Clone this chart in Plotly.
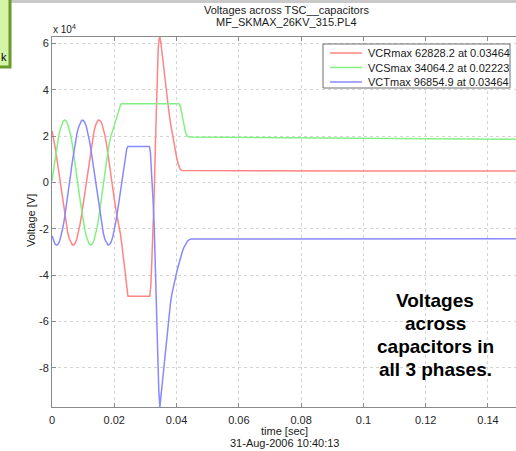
import numpy as np
import plotly.graph_objects as go

# ---------------- layout constants ----------------
W, H = 516, 451
ML, MR, MT, MB = 52, 0, 37, 44
FONT = "Liberation Sans, Arial, sans-serif"

# ---------------- texts ----------------
title_lines = ["Voltages across TSC__capacitors", "MF_SKMAX_26KV_315.PL4"]
x_title = "time [sec]"
x_subtitle = "31-Aug-2006 10:40:13"
y_title = "Voltage [V]"
y_exponent = "x 10<sup>4</sup>"
note_lines = ["Voltages", "across", "capacitors in", "all 3 phases."]
corner_text = "k"

x_ticks = [0, 0.02, 0.04, 0.06, 0.08, 0.10, 0.12, 0.14]
x_tick_labels = ["0", "0.02", "0.04", "0.06", "0.08", "0.1", "0.12", "0.14"]
y_ticks = [-8, -6, -4, -2, 0, 2, 4, 6]
y_tick_labels = ["-8", "-6", "-4", "-2", "0", "2", "4", "6"]
x_range = [0, 0.149]
y_range = [-9.68549, 6.28282]

series_names = ["VCRmax 62828.2 at 0.03464",
                "VCSmax 34064.2 at 0.02223",
                "VCTmax 96854.9 at 0.03464"]
series_colors = ["#ff8484", "#84f084", "#8888ff"]

# ---------------- data (time in ms, voltage in units of 1e4 V) ----------------
t_vcr_ms = [0, 0.5, 1, 1.5, 2, 2.5, 3, 3.5, 4, 4.5, 5, 5.5, 6, 6.5, 7, 7.5, 8, 8.5, 9, 9.5,
            10, 10.5, 11, 11.5, 12, 12.5, 13, 13.5, 14, 14.5, 15, 15.5, 16, 16.5, 17, 17.5,
            18, 18.5, 19, 19.5, 20, 20.5, 21, 21.5, 22, 22.5, 23, 23.5, 24, 24.4,
            31.4, 31.7, 32.0, 32.4, 32.8, 33.2, 33.5, 33.8, 34.1, 34.4, 34.64, 34.9, 35.3,
            35.8, 36.3, 37.0, 37.5, 38.0, 38.5, 39.0, 39.5, 40.0, 40.5, 41.0, 41.6,
            60, 100, 150]
vcr = [2.24, 1.92, 1.53, 1.09, 0.61, 0.10, -0.41, -0.90, -1.36, -1.77,
       -2.12, -2.40, -2.59, -2.69, -2.69, -2.60, -2.41, -2.14, -1.80, -1.39,
       -0.93, -0.44, 0.07, 0.57, 1.06, 1.50, 1.90, 2.22, 2.47, 2.63,
       2.70, 2.67, 2.55, 2.33, 2.04, 1.67, 1.24, 0.77, 0.27, -0.24,
       -0.70, -1.15, -1.50, -1.85, -2.25, -2.75, -3.35, -3.95, -4.55, -4.91,
       -4.91, -4.50, -3.60, -2.20, -0.60, 1.60, 3.50, 4.90, 5.80, 6.20, 6.28282, 6.10, 5.60,
       5.00, 4.40, 3.70, 3.10, 2.60, 2.20, 1.80, 1.40, 1.10, 0.82, 0.62, 0.52,
       0.51, 0.50, 0.50]

t_vcs_ms = [0, 0.5, 1, 1.5, 2, 2.5, 3, 3.5, 4, 4.5, 5, 5.5, 6, 6.5, 7, 7.5, 8, 8.5, 9, 9.5,
            10, 10.5, 11, 11.5, 12, 12.5, 13, 13.5, 14, 14.5, 15, 15.5, 16, 16.5, 17, 17.5,
            18, 18.5, 19, 19.5, 20, 21, 22, 22.23,
            40.8, 41.2, 41.6, 42.0, 42.4, 42.8, 43.2, 43.7, 44.3,
            60, 80, 100, 120, 150]
vcs = [0.07, 0.57, 1.06, 1.50, 1.90, 2.22, 2.47, 2.63, 2.70, 2.67,
       2.55, 2.33, 2.04, 1.67, 1.24, 0.77, 0.27, -0.24, -0.74, -1.21,
       -1.64, -2.01, -2.32, -2.53, -2.66, -2.70, -2.64, -2.48, -2.24, -1.92,
       -1.53, -1.09, -0.61, -0.10, 0.41, 0.90, 1.36, 1.77, 2.05, 2.25,
       2.42, 2.90, 3.36, 3.40642,
       3.40, 3.30, 3.05, 2.75, 2.45, 2.20, 2.05, 1.99, 1.97,
       1.95, 1.93, 1.91, 1.89, 1.87]

t_vct_ms = [0, 0.5, 1, 1.5, 2, 2.5, 3, 3.5, 4, 4.5, 5, 5.5, 6, 6.5, 7, 7.5, 8, 8.5, 9, 9.5,
            10, 10.5, 11, 11.5, 12, 12.5, 13, 13.5, 14, 14.5, 15, 15.5, 16, 16.5, 17, 17.5,
            18, 18.5, 19, 19.5, 20, 20.5, 21, 21.5, 22, 22.5, 23, 23.5, 24, 24.4,
            31.3, 31.6, 31.9, 32.2, 32.5, 32.8, 33.1, 33.5, 33.9, 34.3, 34.64, 35.0, 35.5,
            36.0, 36.5, 37.0, 37.5, 38.0, 38.5, 39.0, 39.5, 40.0, 40.5, 41.0, 41.5, 42.0,
            42.5, 43.0, 43.5, 44.0, 44.6, 60, 100, 150]
vct = [-2.30, -2.52, -2.66, -2.70, -2.65, -2.50, -2.26, -1.94, -1.56, -1.12,
       -0.64, -0.14, 0.37, 0.87, 1.33, 1.75, 2.10, 2.38, 2.58, 2.68,
       2.69, 2.61, 2.43, 2.16, 1.82, 1.42, 0.96, 0.47, -0.03, -0.54,
       -1.03, -1.48, -1.87, -2.20, -2.46, -2.62, -2.70, -2.67, -2.56, -2.35,
       -2.06, -1.69, -1.27, -0.80, -0.30, 0.20, 0.70, 1.15, 1.45, 1.56,
       1.56, 1.30, 0.70, -0.10, -0.90, -1.80, -3.20, -5.60, -7.70, -9.00, -9.68549, -9.20, -8.46,
       -7.75, -7.05, -6.35, -5.75, -5.25, -4.80, -4.45, -4.15, -3.90, -3.62, -3.35, -3.12, -2.92,
       -2.76, -2.63, -2.53, -2.47, -2.44, -2.44, -2.43, -2.42]

series_t = [t_vcr_ms, t_vcs_ms, t_vct_ms]
series_v = [vcr, vcs, vct]

# ---------------- helpers: pixel -> paper ----------------
PW = W - ML - MR
PH = H - MT - MB


def px(xp):
    return (xp - ML) / PW


def py(yp):
    return (H - MB - yp) / PH


fig = go.Figure()
for name, t, v, c in zip(series_names, series_t, series_v, series_colors):
    fig.add_trace(go.Scatter(x=np.array(t) / 1000.0, y=v, mode="lines", name=name,
                             line=dict(color=c, width=1.5), showlegend=False,
                             hoverinfo="skip"))

axis_common = dict(showline=True, linecolor="#8a8a8a", linewidth=1,
                   ticks="inside", ticklen=4, tickcolor="#8a8a8a",
                   showgrid=True, gridcolor="#d4d4d4", griddash="dot", gridwidth=1,
                   zeroline=False,
                   tickfont=dict(family=FONT, size=11, color="#262626"))

fig.update_layout(
    width=W, height=H,
    margin=dict(l=ML, r=MR, t=MT, b=MB, pad=0),
    paper_bgcolor="white", plot_bgcolor="white",
    showlegend=False,
    xaxis=dict(range=x_range, tickvals=x_ticks, ticktext=x_tick_labels,
               mirror="ticks", ticklabelstandoff=3, **axis_common),
    yaxis=dict(range=y_range, tickvals=y_ticks, ticktext=y_tick_labels,
               mirror=False, **axis_common),
)

ann = []
# title
for i, line in enumerate(title_lines):
    ann.append(dict(x=px(286), y=py(10 + 12 * i), xref="paper", yref="paper",
                    text=line, showarrow=False, xanchor="center", yanchor="middle",
                    font=dict(family=FONT, size=11, color="#1a1a1a")))
# x title
ann.append(dict(x=px(284), y=py(431), xref="paper", yref="paper", text=x_title,
                showarrow=False, xanchor="center", yanchor="middle",
                font=dict(family=FONT, size=11, color="#1a1a1a")))
ann.append(dict(x=px(284), y=py(443), xref="paper", yref="paper", text=x_subtitle,
                showarrow=False, xanchor="center", yanchor="middle",
                font=dict(family=FONT, size=11, color="#1a1a1a")))
# y title
ann.append(dict(x=px(31), y=py(221), xref="paper", yref="paper", text=y_title,
                showarrow=False, xanchor="center", yanchor="middle", textangle=-90,
                font=dict(family=FONT, size=11, color="#1a1a1a")))
# exponent
ann.append(dict(x=px(51), y=py(29), xref="paper", yref="paper", text=y_exponent,
                showarrow=False, xanchor="left", yanchor="middle",
                font=dict(family=FONT, size=10, color="#1a1a1a")))
# note
for i, line in enumerate(note_lines):
    ann.append(dict(x=px(435), y=py(300 + 23 * i), xref="paper", yref="paper",
                    text="<b>" + line + "</b>", showarrow=False,
                    xanchor="center", yanchor="middle",
                    font=dict(family=FONT, size=19, color="black")))
# manual legend
shapes = []
shapes.append(dict(type="rect", xref="paper", yref="paper",
                   x0=px(323), x1=px(510), y0=py(88), y1=py(44),
                   line=dict(color="#6e6e6e", width=1), fillcolor="white"))
for i, (name, c) in enumerate(zip(series_names, series_colors)):
    yy = py(53 + 14.5 * i)
    shapes.append(dict(type="line", xref="paper", yref="paper",
                       x0=px(330), x1=px(362), y0=yy, y1=yy,
                       line=dict(color=c, width=1.5)))
    ann.append(dict(x=px(366), y=yy, xref="paper", yref="paper", text=name,
                    showarrow=False, xanchor="left", yanchor="middle",
                    font=dict(family=FONT, size=11, color="#1a1a1a")))

# frame decorations from the slide (top strip and green box)
shapes.append(dict(type="rect", xref="paper", yref="paper",
                   x0=px(0), x1=px(516), y0=py(3), y1=py(0),
                   line=dict(width=0), fillcolor="#c9c9c9", layer="above"))
shapes.append(dict(type="rect", xref="paper", yref="paper",
                   x0=px(-3), x1=px(10), y0=py(67), y1=py(-3),
                   line=dict(color="#6b9a2c", width=3), fillcolor="#d4f5a6", layer="above"))
ann.append(dict(x=px(4), y=py(57), xref="paper", yref="paper", text=corner_text,
                showarrow=False, xanchor="center", yanchor="middle",
                font=dict(family=FONT, size=11, color="black")))

fig.update_layout(annotations=ann, shapes=shapes)
fig.write_html("out.html")
